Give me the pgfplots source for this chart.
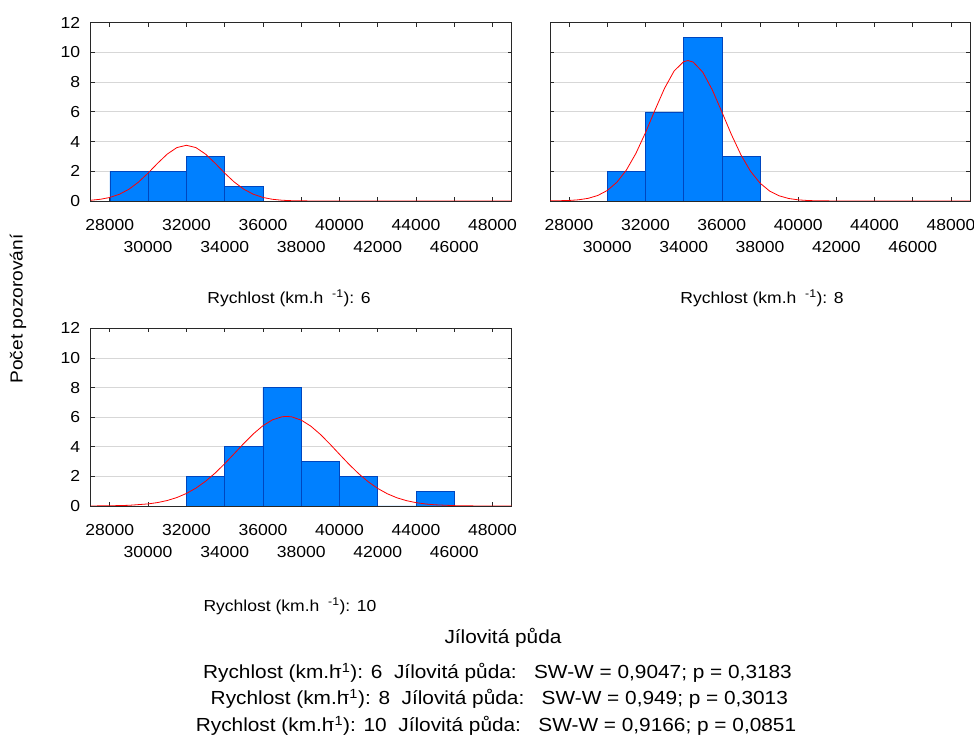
\documentclass[border=0pt]{standalone}
\usepackage{pgfplots}
\pgfplotsset{compat=1.18}
\usepackage{fontspec}
\setmainfont{Liberation Sans}[FakeStretch=1.1]
\definecolor{barblue}{RGB}{0,128,255}
\definecolor{baredge}{RGB}{0,70,190}
\definecolor{gridgray}{RGB}{215,215,215}
\definecolor{axgray}{RGB}{40,40,40}
\pgfplotsset{hist/.style={
  scale only axis, width=421bp, height=178.3bp,
  xmin=27000, xmax=49000, ymin=0, ymax=12,
  ytick={0,2,...,12},
  xtick={28000,32000,...,48000},
  extra x ticks={30000,34000,...,46000},
  extra x tick style={xticklabel style={yshift=-22bp}},
  xticklabel style={yshift=-15bp},
  yticklabel style={xshift=-7bp},
  scaled x ticks=false, scaled y ticks=false,
  /pgf/number format/1000 sep={},
  /pgf/number format/assume math mode=true,
  ticklabel style={font=\fontsize{16}{19}\selectfont},
  tick align=inside, major tick length=4bp,
  tick style={axgray, line width=0.7bp},
  axis line style={axgray, line width=0.8bp},
  ymajorgrids, grid style={gridgray, line width=0.8bp},
  clip=true,
}}
\begin{document}
\begin{tikzpicture}[x=1bp,y=1bp]
\useasboundingbox (0,0) rectangle (974,738);
% panel 1: speed 6
\begin{axis}[hist, at={(90.7bp,537bp)}, anchor=south west]
\addplot[ybar interval, fill=barblue, draw=baredge, line width=0.6bp] coordinates {(28000,2) (30000,2) (32000,3) (34000,1) (36000,0)};
\addplot[red, line width=0.8bp] coordinates {(27000,0.050)(27500,0.114)(28000,0.237)(28500,0.453)(29000,0.793)(29500,1.275)(30000,1.880)(30500,2.543)(31000,3.156)(31500,3.592)(32000,3.750)(32500,3.592)(33000,3.156)(33500,2.543)(34000,1.880)(34500,1.275)(35000,0.793)(35500,0.453)(36000,0.237)(36500,0.114)(37000,0.050)(37500,0.020)(38000,0.008)(39000,0.001)(40000,0)(49000,0)};
\end{axis}
% panel 2: speed 8
\begin{axis}[hist, width=420bp, yticklabels={}, at={(550bp,537bp)}, anchor=south west]
\addplot[ybar interval, fill=barblue, draw=baredge, line width=0.6bp] coordinates {(30000,2) (32000,6) (34000,11) (36000,3) (38000,0)};
\addplot[red, line width=0.8bp] coordinates {(27000,0.005)(28000,0.034)(28500,0.081)(29000,0.179)(29500,0.369)(30000,0.706)(30500,1.257)(31000,2.082)(31500,3.207)(32000,4.596)(32500,6.123)(33000,7.588)(33500,8.747)(34000,9.378)(34230,9.450)(34500,9.351)(35000,8.672)(35500,7.479)(36000,6.000)(36500,4.476)(37000,3.106)(37500,2.005)(38000,1.204)(38500,0.672)(39000,0.349)(39500,0.168)(40000,0.076)(40500,0.032)(41000,0.012)(42000,0.002)(43000,0)(49000,0)};
\end{axis}
% panel 3: speed 10
\begin{axis}[hist, height=177.7bp, at={(90.7bp,232bp)}, anchor=south west]
\addplot[ybar interval, fill=barblue, draw=baredge, line width=0.6bp] coordinates {(32000,2) (34000,4) (36000,8) (38000,3) (40000,2) (42000,0) (44000,1) (46000,1)};
\addplot[red, line width=0.8bp] coordinates {(27000,0.003)(28000,0.013)(29000,0.046)(30000,0.141)(30500,0.232)(31000,0.371)(31500,0.570)(32000,0.845)(32500,1.208)(33000,1.667)(33500,2.220)(34000,2.853)(34500,3.534)(35000,4.225)(35500,4.873)(36000,5.422)(36500,5.820)(37000,6.026)(37235,6.050)(37500,6.019)(38000,5.801)(38500,5.393)(39000,4.837)(39500,4.185)(40000,3.493)(40500,2.813)(41000,2.185)(41500,1.637)(42000,1.184)(42500,0.826)(43000,0.555)(43500,0.361)(44000,0.226)(44500,0.136)(45000,0.080)(46000,0.024)(47000,0.006)(48000,0.002)(49000,0)};
\end{axis}
% labels
\begin{scope}[every node/.style={inner sep=0pt}]
\node[anchor=base, font=\fontsize{16}{19}\selectfont] at (289,434) {Rychlost (km.h\hspace{0.55em}\textsuperscript{-1}): 6};
\node[anchor=base, font=\fontsize{16}{19}\selectfont] at (762,434) {Rychlost (km.h\hspace{0.55em}\textsuperscript{-1}): 8};
\node[anchor=base west, font=\fontsize{16}{19}\selectfont] at (203.3,126) {Rychlost (km.h\hspace{0.55em}\textsuperscript{-1}): 10};
\node[rotate=90, font=\fontsize{17.5}{20}\selectfont] at (18,429) {Počet pozorování};
\node[anchor=base, font=\fontsize{19}{22}\selectfont] at (503,94.7) {Jílovitá půda};
\node[anchor=base, font=\fontsize{19}{22}\selectfont] at (497.5,59) {Rychlost (km.h\kern-0.2em\textsuperscript{-1}): 6\ \ Jílovitá půda:\ \ \ SW-W = 0,9047; p = 0,3183};
\node[anchor=base, font=\fontsize{19}{22}\selectfont] at (499.3,33) {Rychlost (km.h\kern-0.2em\textsuperscript{-1}): 8\ \ Jílovitá půda:\ \ \ SW-W = 0,949; p = 0,3013};
\node[anchor=base, font=\fontsize{19}{22}\selectfont] at (496,6.3) {Rychlost (km.h\kern-0.2em\textsuperscript{-1}): 10\ \ Jílovitá půda:\ \ \ SW-W = 0,9166; p = 0,0851};
\end{scope}
\end{tikzpicture}
\end{document}
